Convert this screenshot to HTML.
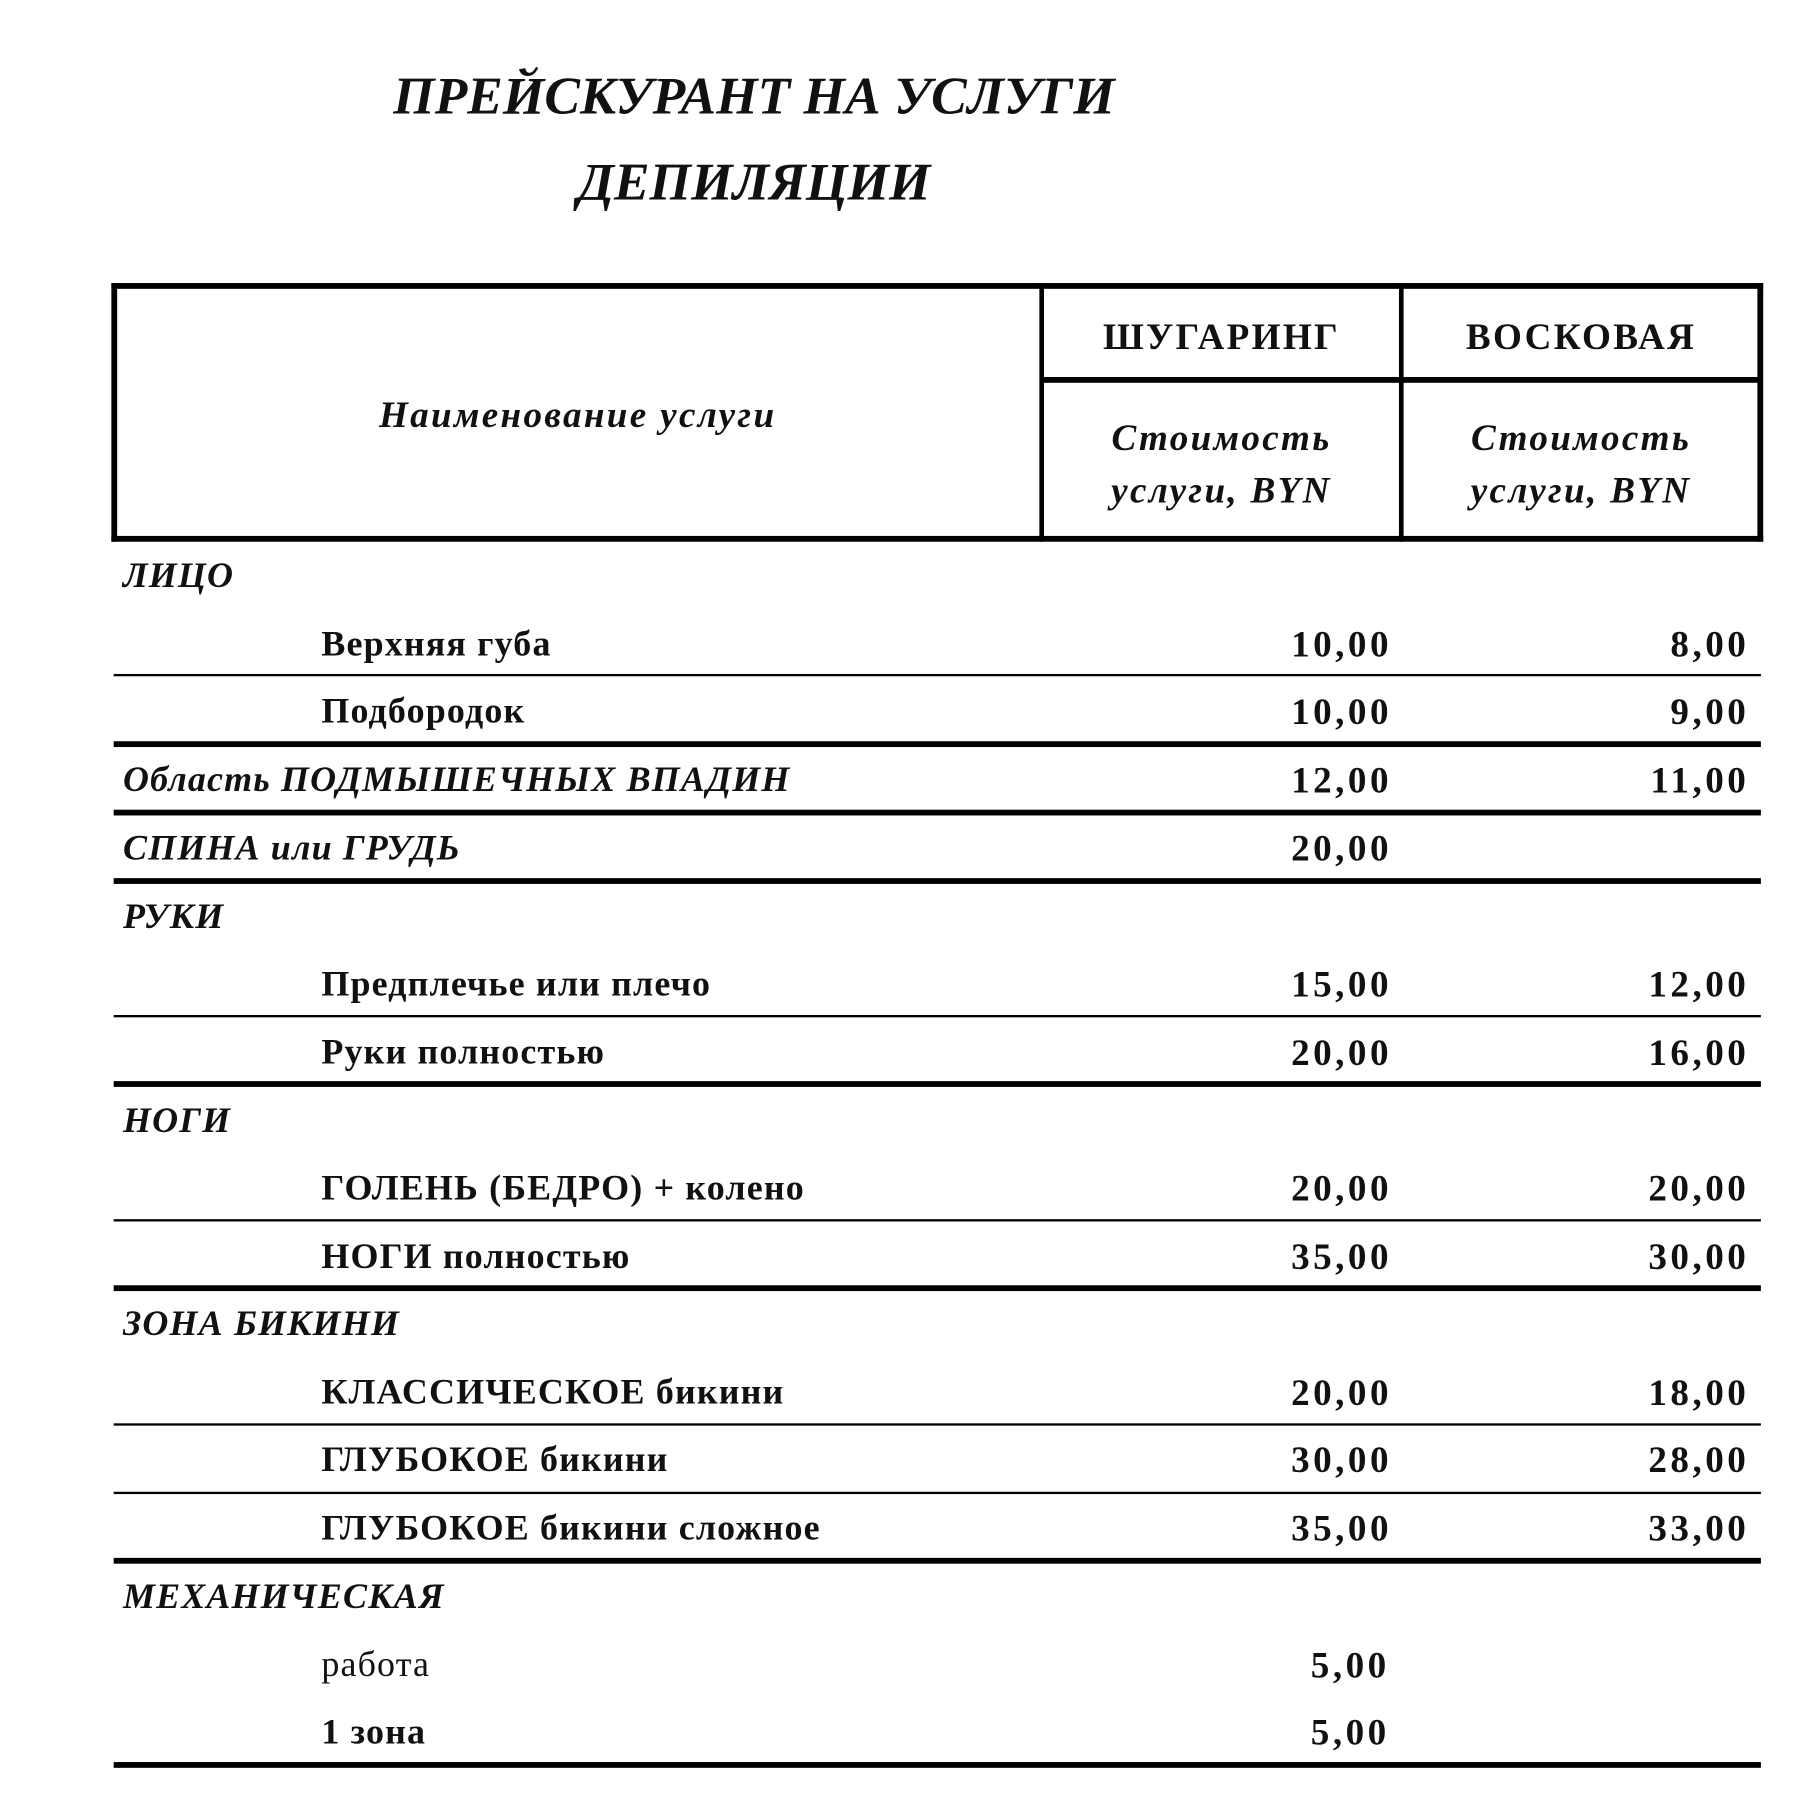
<!DOCTYPE html>
<html><head><meta charset="utf-8"><style>
html,body{margin:0;padding:0;background:#fff;}
body{width:1818px;height:1793px;overflow:hidden;position:relative;}
#w{position:absolute;left:0;top:0;width:1560px;height:1540px;transform:scale(1.160);transform-origin:0 0;font-family:"Liberation Serif",serif;font-weight:bold;color:#111;}
.t{position:absolute;height:40px;line-height:40px;white-space:nowrap;font-size:31px;letter-spacing:1px;}
.i{font-style:italic;}
.r{text-align:right;font-size:32px;letter-spacing:3px;}
.c{text-align:center;}
.h{font-size:32px;letter-spacing:2px;}
.l{position:absolute;left:98px;width:1420px;background:#000;}
.b{position:absolute;background:#000;}
</style></head><body><div id="w">
<div class="t i c" style="left:300px;width:700px;top:58px;height:50px;line-height:50px;font-size:46px;letter-spacing:0;">ПРЕЙСКУРАНТ НА УСЛУГИ</div>
<div class="t i c" style="left:300px;width:700px;top:132px;height:50px;line-height:50px;font-size:46px;letter-spacing:0;">ДЕПИЛЯЦИИ</div>

<div class="b" style="left:96px;top:244px;width:1424px;height:5px"></div>
<div class="b" style="left:96px;top:462px;width:1424px;height:5px"></div>
<div class="b" style="left:96px;top:244px;width:5px;height:223px"></div>
<div class="b" style="left:1515px;top:244px;width:5px;height:223px"></div>
<div class="b" style="left:896px;top:244px;width:4px;height:223px"></div>
<div class="b" style="left:1206px;top:244px;width:4px;height:223px"></div>
<div class="b" style="left:898px;top:325px;width:620px;height:5px"></div>

<div class="t i c h" style="left:100px;width:796px;top:337px;">Наименование услуги</div>
<div class="t c h" style="left:900px;width:306px;top:270px;">ШУГАРИНГ</div>
<div class="t c h" style="left:1210px;width:306px;top:270px;">ВОСКОВАЯ</div>
<div class="t i c h" style="left:900px;width:306px;top:357px;">Стоимость</div>
<div class="t i c h" style="left:900px;width:306px;top:402px;">услуги, BYN</div>
<div class="t i c h" style="left:1210px;width:306px;top:357px;">Стоимость</div>
<div class="t i c h" style="left:1210px;width:306px;top:402px;">услуги, BYN</div>

<div class="t i" style="left:106px;top:476px;">ЛИЦО</div>
<div class="t" style="left:277px;top:535px;">Верхняя губа</div>
<div class="t r" style="left:1000px;width:200px;top:535px;">10,00</div>
<div class="t r" style="left:1308px;width:200px;top:535px;">8,00</div>
<div class="l" style="top:581px;height:2px"></div>
<div class="t" style="left:277px;top:593px;">Подбородок</div>
<div class="t r" style="left:1000px;width:200px;top:593px;">10,00</div>
<div class="t r" style="left:1308px;width:200px;top:593px;">9,00</div>
<div class="l" style="top:639px;height:5px"></div>
<div class="t i" style="left:106px;top:652px;">Область ПОДМЫШЕЧНЫХ ВПАДИН</div>
<div class="t r" style="left:1000px;width:200px;top:652px;">12,00</div>
<div class="t r" style="left:1308px;width:200px;top:652px;">11,00</div>
<div class="l" style="top:698px;height:5px"></div>
<div class="t i" style="left:106px;top:711px;">СПИНА или ГРУДЬ</div>
<div class="t r" style="left:1000px;width:200px;top:711px;">20,00</div>
<div class="l" style="top:757px;height:5px"></div>
<div class="t i" style="left:106px;top:770px;">РУКИ</div>
<div class="t" style="left:277px;top:828px;">Предплечье или плечо</div>
<div class="t r" style="left:1000px;width:200px;top:828px;">15,00</div>
<div class="t r" style="left:1308px;width:200px;top:828px;">12,00</div>
<div class="l" style="top:875px;height:2px"></div>
<div class="t" style="left:277px;top:887px;">Руки полностью</div>
<div class="t r" style="left:1000px;width:200px;top:887px;">20,00</div>
<div class="t r" style="left:1308px;width:200px;top:887px;">16,00</div>
<div class="l" style="top:932px;height:5px"></div>
<div class="t i" style="left:106px;top:946px;">НОГИ</div>
<div class="t" style="left:277px;top:1004px;">ГОЛЕНЬ (БЕДРО) + колено</div>
<div class="t r" style="left:1000px;width:200px;top:1004px;">20,00</div>
<div class="t r" style="left:1308px;width:200px;top:1004px;">20,00</div>
<div class="l" style="top:1051px;height:2px"></div>
<div class="t" style="left:277px;top:1063px;">НОГИ полностью</div>
<div class="t r" style="left:1000px;width:200px;top:1063px;">35,00</div>
<div class="t r" style="left:1308px;width:200px;top:1063px;">30,00</div>
<div class="l" style="top:1108px;height:5px"></div>
<div class="t i" style="left:106px;top:1121px;">ЗОНА БИКИНИ</div>
<div class="t" style="left:277px;top:1180px;">КЛАССИЧЕСКОЕ бикини</div>
<div class="t r" style="left:1000px;width:200px;top:1180px;">20,00</div>
<div class="t r" style="left:1308px;width:200px;top:1180px;">18,00</div>
<div class="l" style="top:1227px;height:2px"></div>
<div class="t" style="left:277px;top:1238px;">ГЛУБОКОЕ бикини</div>
<div class="t r" style="left:1000px;width:200px;top:1238px;">30,00</div>
<div class="t r" style="left:1308px;width:200px;top:1238px;">28,00</div>
<div class="l" style="top:1286px;height:2px"></div>
<div class="t" style="left:277px;top:1297px;">ГЛУБОКОЕ бикини сложное</div>
<div class="t r" style="left:1000px;width:200px;top:1297px;">35,00</div>
<div class="t r" style="left:1308px;width:200px;top:1297px;">33,00</div>
<div class="l" style="top:1343px;height:5px"></div>
<div class="t i" style="left:106px;top:1356px;">МЕХАНИЧЕСКАЯ</div>
<div class="t" style="left:277px;top:1415px;font-weight:normal;">работа</div>
<div class="t r" style="left:998px;width:200px;top:1415px;">5,00</div>
<div class="t" style="left:277px;top:1473px;">1 зона</div>
<div class="t r" style="left:998px;width:200px;top:1473px;">5,00</div>
<div class="l" style="top:1519px;height:5px"></div>
</div></body></html>
